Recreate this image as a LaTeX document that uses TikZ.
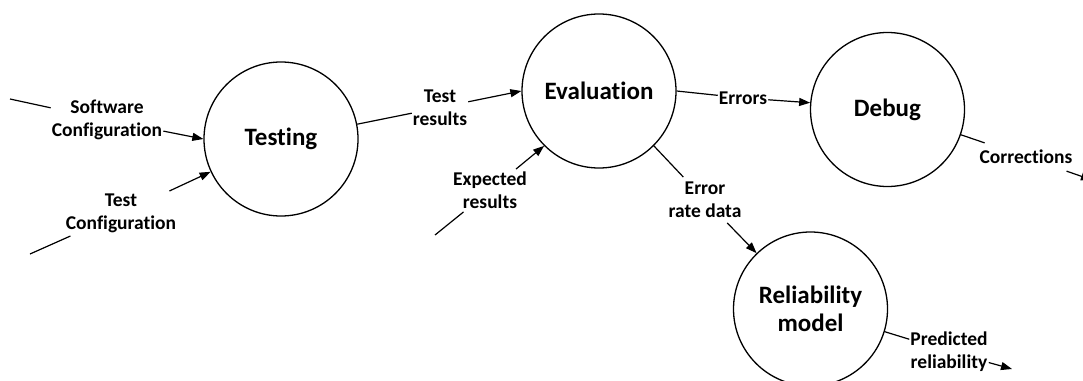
\documentclass[tikz,border=0pt]{standalone}
\usepackage{fontspec}
\setmainfont[Ligatures={NoCommon}]{Carlito}
\usetikzlibrary{arrows.meta}
\tikzset{
  proc/.style={circle,draw,line width=1.3pt,minimum size=154pt,inner sep=0pt,
    font=\fontsize{25}{28.5}\selectfont\bfseries,align=center},
  flowlabel/.style={font=\fontsize{19.5}{22.7}\selectfont\bfseries,align=center,inner xsep=1pt,inner ysep=3pt},
  flow/.style={line width=1.2pt},
  flowarrow/.style={line width=1.2pt,-{Triangle[length=11pt,width=8pt]}}
}
\begin{document}
\begin{tikzpicture}[x=1pt,y=-1pt]
\useasboundingbox (0,0) rectangle (1083,380);
% processes
\node[proc] (test) at (281,139) {Testing};
\node[proc] (eval) at (599,91) {Evaluation};
\node[proc] (debug) at (887.5,109.5) {Debug};
\node[proc] (rel) at (810.5,309) {Reliability\\model};
% free ends
\coordinate (swin) at (10,99);
\coordinate (tcin) at (30,254);
\coordinate (erin) at (435,235);
\coordinate (corout) at (1092,180);
\coordinate (predout) at (1012,369);
% labels
\node[flowlabel] (swl) at (107,120) {Software\\Configuration};
\node[flowlabel] (tcl) at (121,213.5) {Test\\Configuration};
\node[flowlabel] (trl) at (440,107.5) {Test\\results};
\node[flowlabel] (erl) at (490,190.5) {Expected\\results};
\node[flowlabel,inner ysep=1pt] (errl) at (743,98) {Errors};
\node[flowlabel,inner ysep=5pt] (ratel) at (705,200) {Error\\rate data};
\node[flowlabel,inner ysep=7pt] (corl) at (1026,157) {Corrections};
\node[flowlabel,inner ysep=1pt] (predl) at (949,351.5) {Predicted\\reliability};
% connectors
\draw[flow] (swin) -- (swl);
\draw[flowarrow] (swl) -- (test.180);
\draw[flow] (tcin) -- (tcl);
\draw[flowarrow] (tcl) -- (test.205);
\draw[flow] (test.11) -- (trl);
\draw[flowarrow] (trl) -- (eval.180);
\draw[flow] (erin) -- (erl);
\draw[flowarrow] (erl) -- (eval.225);
\draw[flow] (eval.0) -- (errl);
\draw[flowarrow] (errl) -- (debug.175);
\draw[flow] (eval.315) -- (ratel);
\draw[flowarrow] (ratel) -- (rel.134);
\draw[flow] (debug.341) -- (corl);
\draw[flowarrow] (corl) -- (corout);
\draw[flow] (rel.343) -- (predl);
\draw[flowarrow] (predl) -- (predout);
\end{tikzpicture}
\end{document}
